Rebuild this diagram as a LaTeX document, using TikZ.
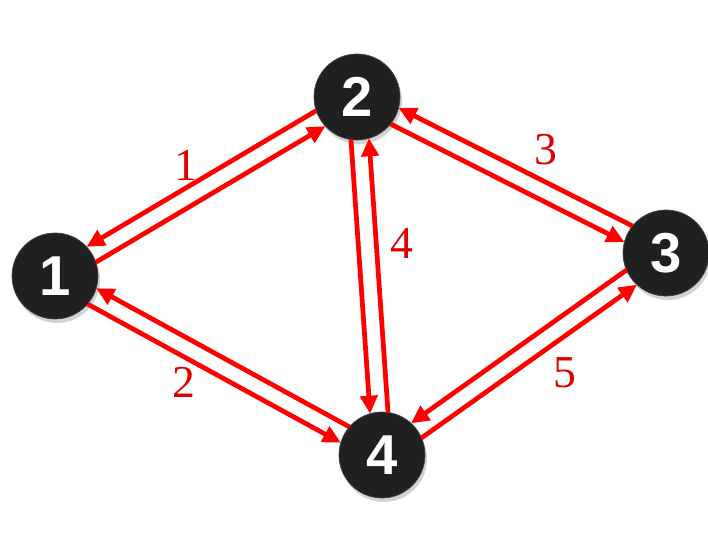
\documentclass[tikz,border=0pt]{standalone}
\usepackage{fontspec}
\newfontfamily\numfont{Liberation Sans}
\newfontfamily\wtfont{Liberation Serif}
\usetikzlibrary{arrows.meta}
\usetikzlibrary{calc}
\usetikzlibrary{shadows}

\definecolor{nodedark}{RGB}{32,32,32}
\definecolor{noderim}{RGB}{70,70,70}
\definecolor{wtred}{RGB}{225,0,0}

\tikzset{
	vertex/.style={circle, minimum size=1.72cm, inner sep=0pt, fill=nodedark, draw=noderim, line width=0.4pt,
		drop shadow={opacity=0.35, shadow xshift=0.04cm, shadow yshift=-0.08cm},
		text=white, font=\numfont\bfseries\fontsize{32}{32}\selectfont},
	flow/.style={draw=red, line width=2.7pt, -{Triangle[length=0.36cm, width=0.34cm]},
		shorten <=0.84cm, shorten >=0.84cm},
	weight/.style={text=wtred, font=\wtfont\fontsize{26}{26}\selectfont}
}

\begin{document}
\begin{tikzpicture}
	\useasboundingbox (0,0) rectangle (14.16,-10.78);
	
	\node[vertex] (n1) at (1.10,-5.52) {1};
	\node[vertex] (n2) at (7.14,-1.94) {2};
	\node[vertex] (n3) at (13.32,-5.06) {3};
	\node[vertex] (n4) at (7.64,-9.10) {4};
	
	\foreach \s/\t in {n1/n2, n2/n1, n1/n4, n4/n1, n2/n3, n3/n2, n2/n4, n4/n2, n3/n4, n4/n3}
		\draw[flow] ($(\s)!0.18cm!-90:(\t)$) -- ($(\t)!0.18cm!90:(\s)$);
	
	\node[weight] (w1) at (3.72,-3.30) {1};
	\node[weight] (w2) at (3.68,-7.64) {2};
	\node[weight] (w3) at (10.92,-3.00) {3};
	\node[weight] (w4) at (8.04,-4.86) {4};
	\node[weight] (w5) at (11.30,-7.46) {5};
\end{tikzpicture}
\end{document}
